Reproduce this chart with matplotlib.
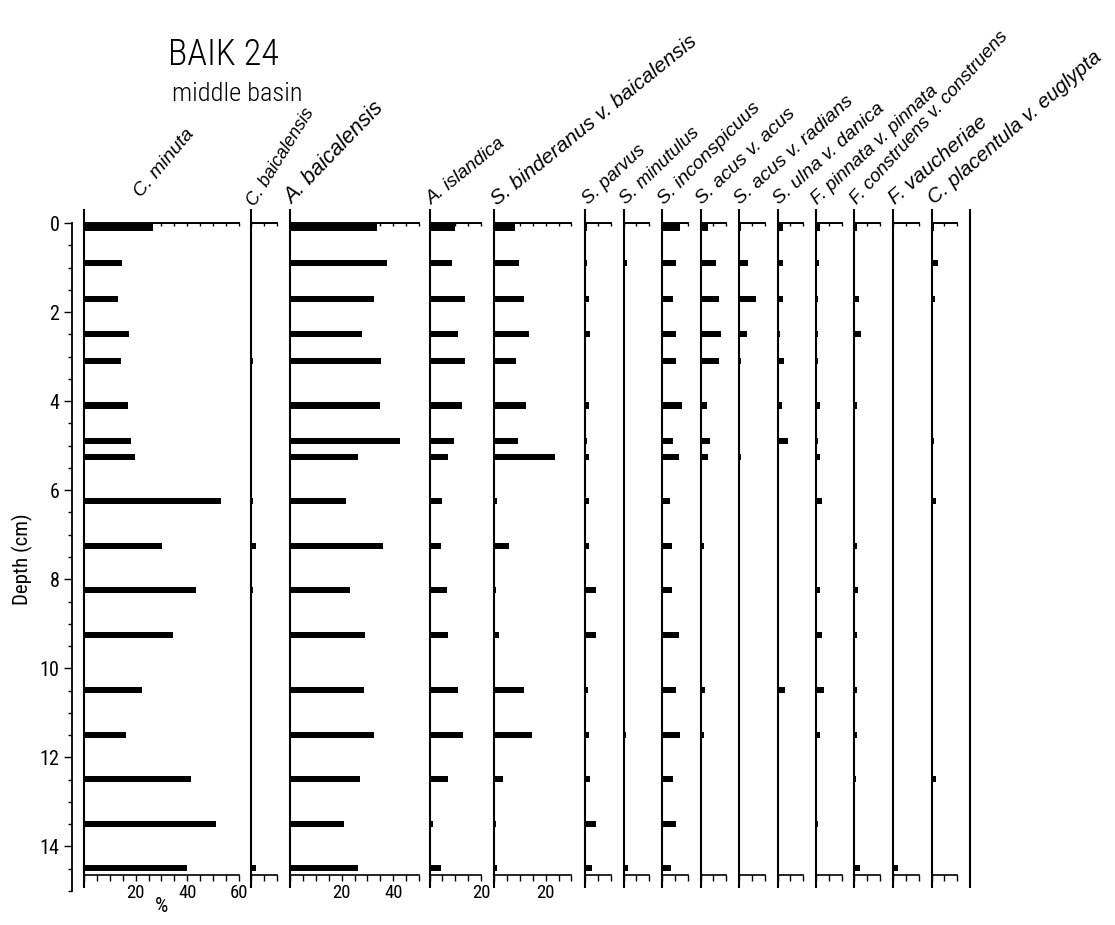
import matplotlib
matplotlib.use("Agg")
import matplotlib.pyplot as plt
import numpy as np

W, H = 1115, 925
NUM_FONT = ['Roboto Condensed', 'Liberation Sans', 'DejaVu Sans']
LAB_FONT = ['Liberation Sans', 'DejaVu Sans']

# ---------------- data ----------------
depths = [0.1, 0.9, 1.7, 2.5, 3.1, 4.1, 4.9, 5.25, 6.25, 7.25, 8.25, 9.25,
          10.5, 11.5, 12.5, 13.5, 14.5]

taxa = ["C. minuta", "C. baicalensis", "A. baicalensis", "A. islandica",
        "S. binderanus v. baicalensis", "S. parvus", "S. minutulus",
        "S. inconspicuus", "S. acus v. acus", "S. acus v. radians",
        "S. ulna v. danica", "F. pinnata v. pinnata",
        "F. construens v. construens", "F. vaucheriae",
        "C. placentula v. euglypta"]

c_minuta = [26.9, 14.9, 13.2, 17.4, 14.2, 17.1, 18.2, 19.8, 53.1, 30.2, 43.4, 34.6,
            22.4, 16.2, 41.5, 51.2, 39.8]
c_baicalensis = [0, 0, 0, 0, 0.8, 0, 0.5, 0, 0.6, 1.8, 0.8, 0.3, 0, 0, 0, 0.5, 1.8]
a_baicalensis = [33.7, 37.6, 32.7, 28.0, 35.1, 35.0, 42.8, 26.5, 21.7, 36.0, 23.4, 29.2,
                 28.7, 32.6, 27.1, 20.9, 26.2]
a_islandica = [9.9, 8.7, 13.9, 11.2, 13.9, 12.5, 9.6, 7.3, 4.7, 4.3, 6.7, 7.3,
               10.9, 13.1, 7.3, 1.2, 4.3]
s_binderanus = [8.0, 9.6, 11.8, 13.7, 8.4, 12.5, 9.4, 23.8, 1.0, 5.9, 0.8, 2.1,
                11.8, 14.9, 3.4, 0.8, 1.0]
s_parvus = [0.8, 0.6, 1.7, 2.1, 0.4, 1.7, 0.7, 1.4, 1.7, 1.5, 4.3, 4.1,
            1.1, 1.7, 1.9, 4.3, 2.8]
s_minutulus = [0, 1.3, 0, 0.6, 0.6, 0.6, 0.2, 0.6, 0.5, 0.5, 0.4, 0.4,
               0.6, 1.0, 0.2, 0, 1.8]
s_inconspicuus = [6.9, 5.3, 4.2, 5.3, 5.6, 7.8, 4.3, 6.4, 3.0, 3.8, 3.9, 6.4,
                  5.5, 6.9, 4.2, 5.6, 3.6]
s_acus_acus = [3.0, 5.9, 7.0, 7.8, 7.1, 2.6, 3.7, 3.1, 0.5, 1.5, 0.2, 0.5,
               1.8, 1.3, 0.5, 0.2, 0.5]
s_acus_radians = [0.9, 3.6, 6.6, 3.2, 0.8, 0, 0.5, 0.6, 0.3, 0, 0, 0,
                  0, 0.5, 0, 0, 0]
s_ulna_danica = [2.1, 2.2, 2.1, 1.0, 2.4, 1.8, 3.9, 0.7, 0.3, 0.5, 0.3, 0,
                 3.1, 0.3, 0, 0, 0]
f_pinnata = [1.7, 1.1, 0.6, 0.6, 0.6, 1.4, 0.6, 1.6, 2.4, 0.3, 1.5, 2.4,
             3.2, 1.6, 0.4, 0.7, 0]
f_construens = [0.9, 0.3, 1.6, 2.6, 0.3, 0.9, 0, 0.2, 0, 1.0, 1.4, 1.0,
                1.0, 0.9, 0.4, 0, 2.3]
f_vaucheriae = [0, 0, 0, 0, 0, 0, 0, 0, 0, 0, 0, 0, 0, 0, 0, 0, 1.8]
c_placentula = [1.1, 2.6, 1.5, 0.5, 0.5, 0, 0.9, 0, 1.9, 0, 0.4, 0.4,
                0, 0.2, 1.7, 0, 0]

series = [c_minuta, c_baicalensis, a_baicalensis, a_islandica, s_binderanus,
          s_parvus, s_minutulus, s_inconspicuus, s_acus_acus, s_acus_radians,
          s_ulna_danica, f_pinnata, f_construens, f_vaucheriae, c_placentula]
x_max = [60, 10, 50, 20, 30, 10, 10, 10, 10, 10, 10, 10, 10, 10, 10]

# ---------------- layout (pixels) ----------------
lefts_px = [84, 251, 290, 429.5, 494, 585, 623.5, 662, 700.5, 739, 777.5,
            816, 854.5, 893, 931.5]
end_line_px = 970
px_per_pct = 2.58
top_px, bot_px = 223, 875
depth_bottom = 14.65
px_per_cm = (bot_px - top_px) / depth_bottom
ext_top = -14 / px_per_cm
ext_bot = depth_bottom + 13 / px_per_cm

label_x_px = [141, 255, 292, 432, 497, 588, 626, 664, 702, 740, 779, 817, 857, 895, 934]
label_y_px = [198, 207, 205, 205, 206, 205, 205, 205, 205, 205, 205, 205, 205, 205, 205]
label_rot = [50, 58, 46, 39, 39, 43, 44, 45, 44, 42, 42, 43, 48, 41, 41]
label_size = [14, 13, 15.5, 13.5, 15, 13.5, 13.5, 14, 14, 14, 14, 13.5, 13.5, 15, 14.8]

fig = plt.figure(figsize=(W / 100, H / 100), dpi=100)


def fx(px):
    return px / W


def fy(py):
    return 1 - py / H


def vline(ax):
    ax.plot([0, 0], [ext_top, ext_bot], color='black', lw=1.5,
            clip_on=False, solid_capstyle='butt')


for i, (name, vals, xm, lp) in enumerate(zip(taxa, series, x_max, lefts_px)):
    wpx = xm * px_per_pct
    ax = fig.add_axes([fx(lp), fy(bot_px), wpx / W, (bot_px - top_px) / H])
    ax.barh(depths, vals, height=0.14, left=0, color='black', align='center')
    ax.set_xlim(0, xm)
    ax.set_ylim(depth_bottom, 0)
    for s in ['left', 'right']:
        ax.spines[s].set_visible(False)
    for s in ['top', 'bottom']:
        ax.spines[s].set_linewidth(1.2)
    vline(ax)
    ticks = np.arange(0, xm + 0.01, 5)
    ax.set_xticks(ticks)
    ax.set_xticklabels([str(int(t)) if (t > 0 and t % 20 == 0) else '' for t in ticks],
                       fontfamily=NUM_FONT, fontsize=13.5)
    ax.tick_params(axis='x', which='both', top=False, bottom=True,
                   direction='out', length=4.5, width=1.0, pad=2)
    ax.set_yticks([])
    sec = ax.secondary_xaxis('top')
    sec.set_xticks(ticks)
    sec.set_xticklabels([])
    sec.tick_params(axis='x', direction='in', length=2.5, width=1.0)
    sec.spines['top'].set_linewidth(1.2)
    ax.patch.set_visible(False)
    fig.text(fx(label_x_px[i]), fy(label_y_px[i]), name, rotation=label_rot[i],
             rotation_mode='anchor', ha='left', va='baseline',
             fontsize=label_size[i], fontstyle='italic', family=LAB_FONT)

# final closing line
axe = fig.add_axes([fx(end_line_px), fy(bot_px), 20 / W, (bot_px - top_px) / H])
axe.set_ylim(depth_bottom, 0)
axe.set_xlim(0, 1)
for s in axe.spines.values():
    s.set_visible(False)
axe.set_xticks([])
axe.set_yticks([])
axe.patch.set_visible(False)
vline(axe)

# depth axis
axd = fig.add_axes([fx(72), fy(891), 0.0005, (891 - 223) / H])
axd.set_ylim(15, 0)
for s in ['right', 'top', 'bottom']:
    axd.spines[s].set_visible(False)
axd.spines['left'].set_linewidth(1.3)
axd.set_xticks([])
axd.set_yticks(np.arange(0, 15, 2))
axd.set_yticklabels([str(int(v)) for v in np.arange(0, 15, 2)],
                    fontfamily=NUM_FONT, fontsize=14.5)
axd.set_yticks(np.arange(0, 15.01, 0.5), minor=True)
axd.tick_params(axis='y', which='major', length=6, width=1.0, pad=3)
axd.tick_params(axis='y', which='minor', length=3, width=1.0)
axd.patch.set_visible(False)

fig.text(fx(22), fy(559), 'Depth (cm)', rotation=90, ha='center', va='center',
         fontsize=15, family=NUM_FONT)
fig.text(fx(161), fy(906), '%', ha='center', va='center', fontsize=15, family=NUM_FONT)
fig.text(fx(168), fy(65), 'BAIK 24', ha='left', va='baseline', fontsize=26,
         fontweight='light', family=NUM_FONT)
fig.text(fx(172), fy(101), 'middle basin', ha='left', va='baseline', fontsize=19,
         fontweight='light', family=NUM_FONT)

fig.savefig('out.png', dpi=100, facecolor='white')
